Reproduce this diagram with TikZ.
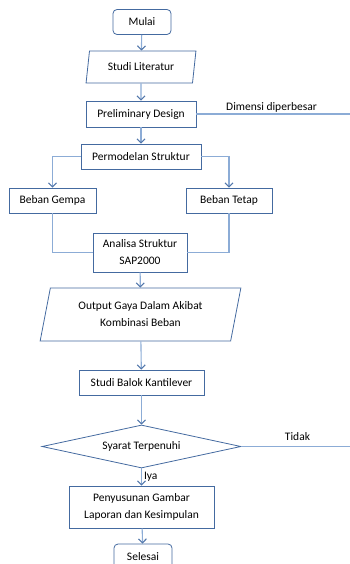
\documentclass[tikz,border=0pt]{standalone}
\usepackage{fontspec}
\setmainfont{Carlito}
\usetikzlibrary{shapes.geometric,arrows.meta}
\definecolor{boxblue}{RGB}{68,106,160}
\definecolor{linkblue}{RGB}{140,172,214}
\tikzset{
  box/.style={draw=boxblue, line width=0.8pt, inner sep=2pt, align=center,
    font=\fontsize{11.5}{17}\selectfont},
  terminal/.style={box, rounded corners=4pt, minimum width=58pt, minimum height=25pt},
  io/.style={box, trapezium, trapezium stretches=true},
  decision/.style={box, diamond, aspect=4.6, inner sep=0pt},
  link/.style={draw=linkblue, line width=1.1pt},
  arrow/.style={link, -{Straight Barb[length=4pt,width=8pt,color=boxblue!80!linkblue]}},
  tag/.style={font=\fontsize{11.5}{13}\selectfont, inner sep=2pt}
}
\begin{document}
\begin{tikzpicture}[x=1pt,y=-1pt]
  \clip (0,0) rectangle (350,564);
  \useasboundingbox (0,0) rectangle (350,564);
  % flow boxes
  \node[terminal] (mulai) at (142,22) {Mulai};
  \node[io, trapezium left angle=79, trapezium right angle=101,
    minimum width=110pt, minimum height=32pt] (studi) at (141,67) {Studi Literatur};
  \node[box, minimum width=110pt, minimum height=26pt] (prelim) at (141,114) {Preliminary Design};
  \node[box, minimum width=120pt, minimum height=25pt] (model) at (141,156.5) {Permodelan Struktur};
  \node[box, minimum width=87pt, minimum height=25pt] (gempa) at (52.5,200.5) {Beban Gempa};
  \node[box, minimum width=86pt, minimum height=25pt] (tetap) at (229,200.5) {Beban Tetap};
  \node[box, minimum width=94pt, minimum height=39pt] (analisa) at (140,252.5) {Analisa Struktur\\SAP2000};
  \node[io, trapezium left angle=76, trapezium right angle=104,
    minimum width=201pt, minimum height=53pt] (output) at (140.5,314.5) {Output Gaya Dalam Akibat\\Kombinasi Beban};
  \node[box, minimum width=125pt, minimum height=25pt] (balok) at (141.5,382.5) {Studi Balok Kantilever};
  \node[decision, minimum width=199pt, minimum height=43pt] (syarat) at (141.5,446.5) {Syarat Terpenuhi};
  \node[box, minimum width=145pt, minimum height=42pt] (susun) at (141.5,507) {Penyusunan Gambar\\Laporan dan Kesimpulan};
  \node[terminal, minimum height=26pt] (selesai) at (143,557) {Selesai};
  % loose ends going off to the right
  \coordinate (ujungA) at (352,114);
  \coordinate (ujungB) at (352,446.5);
  \node[tag] (dimensi) at (271.5,107) {Dimensi diperbesar};
  \node[tag] (tidak) at (297.5,437) {Tidak};
  % connectors
  \draw[arrow] (mulai) -- (studi);
  \draw[arrow] (studi) -- (prelim);
  \draw[link] (prelim.east) -- (ujungA);
  \draw[arrow] (prelim) -- (model);
  \draw[arrow] (model.west) -| (gempa.north);
  \draw[arrow] (model.east) -| (tetap.north);
  \draw[link] (gempa.south) |- (analisa.west);
  \draw[link] (tetap.south) |- (analisa.east);
  \draw[arrow] (analisa) -- (output);
  \draw[arrow] (output) -- (balok);
  \draw[arrow] (balok) -- (syarat);
  \draw[link] (syarat.east) -- (ujungB);
  \draw[arrow] (syarat) -- node[tag, right] (iya) {Iya} (susun);
  \draw[arrow] (susun) -- (selesai);
\end{tikzpicture}
\end{document}
